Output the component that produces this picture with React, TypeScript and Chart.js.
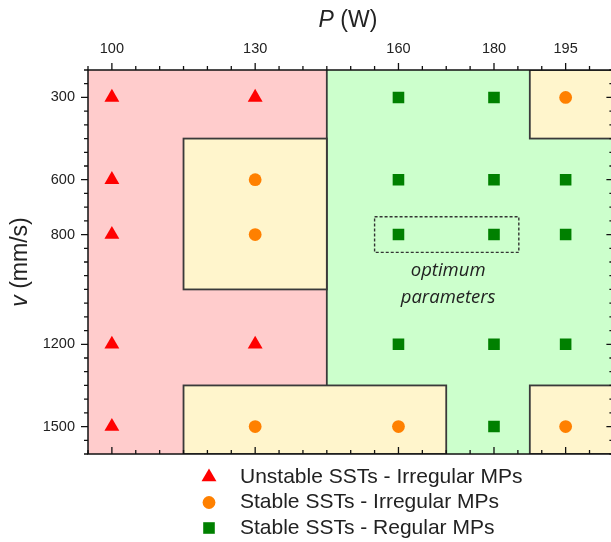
import React, { useEffect, useRef } from "react";
import { Chart, registerables } from "chart.js";
import { drawPoint } from "chart.js/helpers";

Chart.register(...registerables);

// ---- data ----
const powerTicks = [100, 130, 160, 180, 195];
const speedTicks = [300, 600, 800, 1200, 1500];
const pRange = [95, 205];
const vRange = [200, 1600];

const seriesLabels = [
  "Unstable SSTs - Irregular MPs",
  "Stable SSTs - Irregular MPs",
  "Stable SSTs - Regular MPs",
];

const unstableP = [100, 130, 100, 100, 100, 130, 100];
const unstableV = [300, 300, 600, 800, 1200, 1200, 1500];
const stableIrrP = [195, 130, 130, 130, 160, 195];
const stableIrrV = [300, 600, 800, 1500, 1500, 1500];
const stableRegP = [160, 180, 160, 180, 195, 160, 180, 195, 160, 180, 195, 180];
const stableRegV = [300, 300, 600, 600, 600, 800, 800, 800, 1200, 1200, 1200, 1500];

// zones: [P min, P max, v min, v max]
const unstableZone = [95, 145, 200, 1600];
const regularZone = [145, 205, 200, 1600];
const irregularZones = [
  [115, 145, 450, 1000],
  [187.5, 205, 200, 450],
  [115, 170, 1350, 1600],
  [187.5, 205, 1350, 1600],
];
const optimumBox = [155, 185.2, 735, 865];
const optimumText = ["optimum", "parameters"];
const optimumTextP = 170.4;
const optimumTextV = [932, 1032];

// ---- styles ----
const RED = "#ff0000";
const ORANGE = "#ff8000";
const GREEN = "#008000";
const PINK_BG = "#ffcccc";
const YELLOW_BG = "#fff5cc";
const GREEN_BG = "#ccffcc";
const ZONE_LINE = "#3a3a3a";
const TEXT = "#222222";
const SANS = '"Liberation Sans", Arial, sans-serif';

const pts = (ps: number[], vs: number[]) => ps.map((p, i) => ({ x: p, y: vs[i] }));

const markerStyles = [
  { pointStyle: "triangle", radius: 8.6, color: RED },
  { pointStyle: "circle", radius: 6.4, color: ORANGE },
  { pointStyle: "rect", radius: 8.2, color: GREEN },
];

const zonesPlugin = {
  id: "zones",
  beforeDatasetsDraw(chart: any) {
    const { ctx, chartArea: a, scales } = chart;
    const x = scales.x;
    const y = scales.y;
    const rect = (r: number[]) => {
      const x0 = x.getPixelForValue(r[0]);
      const x1 = x.getPixelForValue(r[1]);
      const y0 = y.getPixelForValue(r[2]);
      const y1 = y.getPixelForValue(r[3]);
      return [x0, Math.min(y0, y1), x1 - x0, Math.abs(y1 - y0)];
    };
    ctx.save();
    ctx.beginPath();
    ctx.rect(a.left, a.top, a.right - a.left, a.bottom - a.top);
    ctx.clip();
    const [rx, ry, rw, rh] = rect(unstableZone);
    ctx.fillStyle = PINK_BG;
    ctx.fillRect(rx, ry, rw, rh);
    const [gx, gy, gw, gh] = rect(regularZone);
    ctx.fillStyle = GREEN_BG;
    ctx.fillRect(gx, gy, gw, gh);
    ctx.strokeStyle = ZONE_LINE;
    ctx.lineWidth = 1.8;
    ctx.beginPath();
    ctx.moveTo(gx, gy);
    ctx.lineTo(gx, gy + gh);
    ctx.stroke();
    for (const z of irregularZones) {
      const [zx, zy, zw, zh] = rect(z);
      ctx.fillStyle = YELLOW_BG;
      ctx.fillRect(zx, zy, zw, zh);
      ctx.strokeRect(zx, zy, zw, zh);
    }
    // optimum dashed box
    const [ox, oy, ow, oh] = rect(optimumBox);
    ctx.setLineDash([3, 2]);
    ctx.lineWidth = 1.4;
    ctx.strokeStyle = "#333";
    ctx.strokeRect(ox, oy, ow, oh);
    ctx.setLineDash([]);
    ctx.fillStyle = TEXT;
    ctx.font = 'italic 18.5px "Open Sans", sans-serif';
    ctx.textAlign = "center";
    ctx.textBaseline = "middle";
    optimumText.forEach((t, i) => {
      ctx.fillText(t, x.getPixelForValue(optimumTextP), y.getPixelForValue(optimumTextV[i]));
    });
    ctx.restore();
  },
};

const frameAndTextPlugin = {
  id: "frameText",
  afterDraw(chart: any) {
    const { ctx, chartArea: a, scales } = chart;
    const x = scales.x;
    const y = scales.y;
    ctx.save();
    ctx.strokeStyle = "#111";
    ctx.lineWidth = 1.5;
    ctx.strokeRect(a.left, a.top, a.right - a.left, a.bottom - a.top);
    // ticks
    ctx.lineWidth = 1.3;
    ctx.beginPath();
    for (let p = pRange[0]; p <= pRange[1]; p += 5) {
      const px = x.getPixelForValue(p);
      const len = powerTicks.includes(p) ? 7 : 4;
      ctx.moveTo(px, a.top);
      ctx.lineTo(px, a.top - len);
      ctx.moveTo(px, a.bottom);
      ctx.lineTo(px, a.bottom - len);
    }
    for (let v = vRange[0]; v <= vRange[1]; v += 50) {
      const py = y.getPixelForValue(v);
      const len = speedTicks.includes(v) ? 7 : 4;
      ctx.moveTo(a.left, py);
      ctx.lineTo(a.left - len, py);
      ctx.moveTo(a.right, py);
      ctx.lineTo(a.right - len, py);
    }
    ctx.stroke();

    // axis titles with italic symbol
    const drawTitle = (sym: string, unit: string) => {
      ctx.font = `italic 23px ${SANS}`;
      const w1 = ctx.measureText(sym).width;
      ctx.font = `23px ${SANS}`;
      const w2 = ctx.measureText(unit).width;
      const start = -(w1 + w2) / 2;
      ctx.textAlign = "left";
      ctx.textBaseline = "middle";
      ctx.font = `italic 23px ${SANS}`;
      ctx.fillText(sym, start, 0);
      ctx.font = `23px ${SANS}`;
      ctx.fillText(unit, start + w1, 0);
    };
    ctx.fillStyle = TEXT;
    ctx.save();
    ctx.translate(348, 21);
    drawTitle("P", " (W)");
    ctx.restore();
    ctx.save();
    ctx.translate(21, (a.top + a.bottom) / 2);
    ctx.rotate(-Math.PI / 2);
    drawTitle("v", " (mm/s)");
    ctx.restore();

    // legend
    const rowY = [477, 502.5, 528];
    seriesLabels.forEach((label, i) => {
      const m = markerStyles[i];
      ctx.fillStyle = m.color;
      ctx.strokeStyle = m.color;
      drawPoint(ctx, { pointStyle: m.pointStyle as any, radius: m.radius, rotation: 0, borderWidth: 0 }, 209, rowY[i]);
      ctx.fillStyle = TEXT;
      ctx.font = `21px ${SANS}`;
      ctx.textAlign = "left";
      ctx.textBaseline = "middle";
      ctx.fillText(label, 240, rowY[i]);
    });
    ctx.restore();
  },
};

export default function App() {
  const ref = useRef<HTMLCanvasElement | null>(null);
  useEffect(() => {
    if (!ref.current) return;
    const seriesData = [pts(unstableP, unstableV), pts(stableIrrP, stableIrrV), pts(stableRegP, stableRegV)];
    const chart = new Chart(ref.current, {
      type: "scatter",
      data: {
        datasets: seriesData.map((d, i) => ({
          label: seriesLabels[i],
          data: d,
          pointStyle: markerStyles[i].pointStyle as any,
          pointRadius: markerStyles[i].radius,
          pointBackgroundColor: markerStyles[i].color,
          pointBorderColor: markerStyles[i].color,
          pointBorderWidth: 0,
          showLine: false,
        })),
      },
      options: {
        responsive: false,
        animation: false,
        devicePixelRatio: 1,
        layout: { padding: { left: 0, right: 3, top: 0, bottom: 88 } },
        plugins: { legend: { display: false }, tooltip: { enabled: false } },
        scales: {
          x: {
            type: "linear",
            position: "top",
            min: pRange[0],
            max: pRange[1],
            afterBuildTicks: (s: any) => {
              s.ticks = powerTicks.map((v) => ({ value: v }));
            },
            afterFit: (s: any) => {
              s.height = 70;
              s.paddingLeft = 0;
              s.paddingRight = 0;
            },
            grid: { display: true, drawOnChartArea: false, drawTicks: false },
            border: { display: false },
            ticks: {
              padding: 12,
              color: TEXT,
              font: { family: SANS, size: 14.5 },
              autoSkip: false,
              maxRotation: 0,
              callback: (v: any) => String(v),
            },
          },
          y: {
            type: "linear",
            reverse: true,
            min: vRange[0],
            max: vRange[1],
            afterBuildTicks: (s: any) => {
              s.ticks = speedTicks.map((v) => ({ value: v }));
            },
            afterFit: (s: any) => {
              s.width = 88;
              s.paddingTop = 0;
              s.paddingBottom = 0;
            },
            grid: { display: true, drawOnChartArea: false, drawTicks: false },
            border: { display: false },
            ticks: {
              padding: 13,
              color: TEXT,
              font: { family: SANS, size: 14.5 },
              autoSkip: false,
              callback: (v: any) => String(v),
            },
          },
        },
      },
      plugins: [zonesPlugin, frameAndTextPlugin],
    });
    return () => chart.destroy();
  }, []);
  return (
    <div style={{ position: "absolute", left: 0, top: 0, width: 611, height: 542, overflow: "hidden", background: "#fff" }}>
      <canvas ref={ref} width={622} height={542} style={{ display: "block" }} />
    </div>
  );
}
